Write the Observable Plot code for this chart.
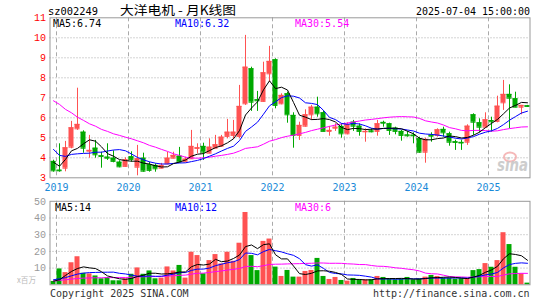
<!DOCTYPE html>
<html><head><meta charset="utf-8">
<script src="https://cdn.jsdelivr.net/npm/d3@7"></script>
<script src="https://cdn.jsdelivr.net/npm/@observablehq/plot@0.6"></script>
<style>
body{margin:0;background:#fff;}
#wrap{position:relative;width:545px;height:300px;overflow:hidden;background:#fff;}
#wrap svg{position:absolute;left:0;top:0;}
</style></head><body><div id="wrap"></div>
<script>
// ---- categories ----
const months = d3.utcMonths(new Date(Date.UTC(2018,11,1)), new Date(Date.UTC(2025,7,1))).map(d3.utcFormat("%Y-%m"));
const years = ["2019","2020","2021","2022","2023","2024","2025"];
const priceTicks = [3,4,5,6,7,8,9,10,11];
const priceGrid = [4,5,6,7,8,9,10];
const volTicks = [10,20,30,40,50];
const volGrid = [10,20,30,40];
const priceMaLabels = ["MA5:6.74","MA10:6.32","MA30:5.54"];
const volMaLabels = ["MA5:14","MA10:12","MA30:6"];

// ---- series (monthly K line) ----
const open = [3.82,3.38,3.48,4.53,5.45,5.28,4.33,4.48,4.10,4.03, 3.98,3.78,3.57,4.05,3.53,3.98,3.65,3.62,3.48,3.70, 3.98,4.08,3.80,3.95,4.47,4.57,4.23,4.48,4.58,5.07, 5.12,5.07,6.70,8.45,6.90,6.82,8.20,8.90,6.70,7.20, 6.12,5.12,5.58,6.15,6.53,6.25,5.32,5.48,5.57,5.20, 5.78,5.58,5.30,5.34,5.32,5.77,5.70,5.48,5.32,5.14, 5.13,4.95,4.28,5.13,5.12,5.42,5.20,4.80,4.77,4.78, 6.15,5.75,5.53,5.86,5.82,6.75,7.17,6.95,6.53,6.60];
const high = [3.88,4.70,4.82,5.82,7.48,5.35,5.12,4.87,4.28,4.70, 4.35,3.85,4.00,4.30,4.62,4.23,3.78,3.70,3.72,4.28, 4.28,4.52,4.03,5.37,4.70,4.73,4.95,5.12,5.12,5.92, 5.87,7.62,10.12,8.53,7.32,8.78,9.57,8.95,7.20,7.28, 6.25,5.78,6.40,6.62,7.03,6.35,5.57,5.70,5.70,5.75, 5.87,5.70,5.45,5.45,5.87,5.83,5.73,5.53,5.37,5.32, 5.25,5.03,4.98,5.25,5.45,5.53,5.28,4.88,4.88,5.65, 6.20,5.95,6.25,6.03,7.08,7.87,7.65,7.28,6.62,6.62];
const low = [3.28,3.28,3.30,4.45,5.37,4.23,3.98,3.98,3.48,3.87, 3.75,3.50,3.52,3.78,3.10,3.28,3.28,3.28,3.45,3.65, 3.95,3.75,3.78,3.92,4.20,3.87,4.20,4.45,4.53,4.95, 4.92,4.95,6.62,6.32,6.32,6.78,7.78,6.45,6.65,5.73, 4.48,4.87,5.53,5.87,6.03,5.30,5.08,5.32,4.98,5.15, 5.32,5.08,4.78,5.25,5.08,5.53,5.12,5.15,4.83,5.03, 4.70,4.23,3.73,4.78,5.03,5.03,4.58,4.37,4.37,4.62, 5.12,5.25,5.50,5.28,5.75,6.37,5.45,6.50,6.15,6.52];
const close = [3.35,3.35,4.50,5.50,5.67,4.48,4.37,4.15,4.07,3.98, 3.82,3.55,3.90,3.92,3.95,3.33,3.37,3.45,3.62,3.98, 4.12,3.78,3.93,4.57,4.50,4.28,4.53,4.65,5.03,5.28, 5.28,6.57,8.53,6.78,6.85,8.25,8.82,6.62,7.12,6.15, 5.12,5.62,6.15,6.53,6.20,5.32,5.37,5.53,5.20,5.65, 5.58,5.32,5.32,5.30,5.70,5.73,5.37,5.32,5.12,5.10, 5.10,4.28,4.92,5.08,5.40,5.25,4.78,4.77,4.74,5.58, 5.78,5.53,5.90,5.80,6.58,7.17,6.98,6.53,6.62,6.57];
const ma5 = [3.78,3.58,3.92,4.35,4.47,4.70,4.90,4.83,4.55,4.21, 4.08,3.91,3.86,3.83,3.83,3.73,3.69,3.60,3.54,3.55, 3.71,3.79,3.89,4.08,4.18,4.21,4.36,4.51,4.60,4.75, 4.95,5.36,6.14,6.49,6.80,7.40,7.85,7.46,7.53,7.39, 6.77,6.13,6.03,5.91,5.92,5.96,5.91,5.79,5.52,5.41, 5.47,5.46,5.41,5.43,5.44,5.47,5.48,5.48,5.45,5.33, 5.20,4.98,4.90,4.90,4.96,4.99,5.09,5.06,4.99,5.02, 5.13,5.28,5.51,5.72,5.92,6.20,6.49,6.62,6.77,6.75];
const ma10 = [4.42,4.12,4.07,4.17,4.20,4.22,4.23,4.28,4.28,4.34, 4.39,4.41,4.35,4.19,4.02,3.90,3.80,3.73,3.69,3.69, 3.72,3.74,3.75,3.81,3.87,3.96,4.08,4.20,4.34,4.47, 4.58,4.86,5.32,5.54,5.78,6.18,6.60,6.80,7.01,7.10, 7.08,6.99,6.75,6.72,6.66,6.37,6.02,5.91,5.72,5.67, 5.72,5.69,5.60,5.48,5.43,5.47,5.47,5.45,5.44,5.39, 5.34,5.23,5.19,5.17,5.14,5.09,5.04,4.98,4.94,4.99, 5.06,5.18,5.28,5.35,5.47,5.66,5.88,6.06,6.24,6.33];
const ma30 = [6.85,6.67,6.42,6.25,6.03,5.87,5.70,5.58,5.42,5.32, 5.20,5.12,5.03,4.95,4.85,4.75,4.62,4.53,4.42,4.32, 4.20,4.12,4.03,3.99,3.98,4.00,4.03,4.08,4.12,4.17, 4.23,4.34,4.47,4.51,4.55,4.68,4.83,4.91,5.01,5.08, 5.13,5.20,5.27,5.36,5.43,5.50,5.57,5.64,5.69,5.74, 5.79,5.84,5.89,5.92,5.96,6.00,6.03,6.05,6.06,6.05, 6.04,5.97,5.85,5.79,5.74,5.64,5.51,5.45,5.37,5.35, 5.37,5.37,5.36,5.33,5.35,5.41,5.46,5.50,5.54,5.55];

// ---- volume (x 百万) ----
const vol = [2.0,9.5,7.3,13.2,16.8,6.9,6.5,5.3,3.6,4.3, 2.4,2.4,3.6,6.3,10.1,6.3,8.3,3.6,4.0,10.7, 8.3,11.6,4.0,19.5,17.5,6.6,14.5,18.1,12.5,19.5, 14.1,24.9,43.3,17.5,8.5,26.0,27.4,10.6,5.0,8.6, 4.6,4.6,8.0,8.6,15.8,5.0,3.2,4.4,2.6,2.2, 3.8,3.0,3.0,3.0,5.0,4.4,3.4,3.0,3.4,4.4, 3.0,3.4,4.6,5.6,5.0,4.0,4.0,3.4,3.6,3.6, 8.5,9.1,12.7,10.5,14.5,31.2,24.1,10.5,6.6,1.0];
const vma5 = [2.2,3.0,5.6,8.0,9.76,10.74,10.14,9.74,7.82,5.32, 4.42,3.60,3.26,3.80,4.96,5.74,6.92,6.92,6.46,6.58, 6.98,7.64,7.72,10.82,12.18,11.84,12.42,15.24,13.84,14.24, 15.74,17.82,22.86,23.86,21.66,24.04,24.54,18.0,15.5,15.52, 11.24,6.68,6.16,6.88,8.32,8.4,8.12,7.4,6.2,3.48, 3.24,3.2,2.92,3.0,3.56,3.68,3.76,3.76,3.84,3.72, 3.44,3.44,3.76,4.2,4.32,4.52,4.64,4.4,4.0,3.72, 4.62,5.64,7.5,8.88,11.06,15.6,18.6,18.16,17.38,14.68];
const vma10 = [3.0,3.6,4.3,5.4,6.4,7.0,7.3,7.4,7.5,7.54, 7.58,6.87,6.5,5.81,5.14,5.08,5.26,5.09,5.13,5.77, 6.36,7.28,7.32,8.64,9.38,9.41,10.03,11.48,12.33,13.21, 13.79,15.12,19.05,18.85,17.95,19.89,21.18,20.43,19.68,18.59, 17.64,15.61,12.08,11.19,11.92,9.82,7.4,6.78,6.54,5.9, 5.82,5.66,5.16,4.6,3.52,3.46,3.48,3.34,3.42,3.64, 3.56,3.6,3.76,4.02,4.02,3.98,4.04,4.08,4.1,4.02, 4.57,5.14,5.95,6.44,7.39,10.11,12.12,12.83,13.13,12.87];
const vma30 = [2.2,2.7,3.0,3.4,3.8,4.0,4.1,4.2,4.2,4.3, 4.3,4.4,4.4,4.5,4.7,4.8,4.9,4.9,5.0,5.2, 5.4,5.7,5.8,6.4,6.9,7.0,7.4,7.9,8.3,8.84, 9.24,9.76,10.96,11.10,10.82,11.46,12.16,12.33,12.38,12.52, 12.60,12.67,12.82,12.89,13.08,13.04,12.87,12.90,12.85,12.57, 12.42,12.13,12.10,11.55,11.13,11.06,10.69,10.18,9.88,9.38, 9.01,8.29,7.0,6.60,6.49,5.75,4.97,4.73,4.69,4.52, 4.65,4.80,4.96,5.02,4.98,5.85,6.55,6.75,6.88,6.84];

// ---- build table ----
const rows = months.map((m, i) => ({
  m, o: open[i], h: high[i], l: low[i], c: close[i], v: vol[i],
  ma5: ma5[i], ma10: ma10[i], ma30: ma30[i],
  vma5: vma5[i], vma10: vma10[i], vma30: vma30[i],
  up: close[i] >= open[i]
}));
const yearStarts = years.map(y => y + "-01");

const RED = "#ff5252", GREEN = "#00a800";
const col = d => d.up ? RED : GREEN;
const MONO = "DejaVu Sans Mono";
const GRID = "#aaaaaa";
const svgStyle = {background: "transparent", position: "absolute", left: "0px", top: "0px", overflow: "visible"};

const xCfg = {type: "band", domain: months, padding: 0, axis: null};
const ML = 49.5, MR = 15.5;

const main = Plot.plot({
  width: 545, height: 300,
  marginLeft: ML, marginRight: MR, marginTop: 17.3, marginBottom: 122.7,
  style: svgStyle,
  x: xCfg,
  y: {domain: [3, 11], axis: null},
  marks: [
    Plot.ruleY(priceGrid, {y: d => d, stroke: GRID, strokeDasharray: "1,2"}),
    Plot.ruleX(yearStarts, {x: d => d, dx: -3, stroke: GRID, strokeDasharray: "4,3"}),
    Plot.ruleX(rows, {x: "m", y1: "l", y2: "h", stroke: col, strokeWidth: 1}),
    Plot.barY(rows, {x: "m", y1: "o", y2: "c", fill: col, insetLeft: 0.5, insetRight: 0.5}),
    Plot.tickY(rows, {x: "m", y: "c", stroke: col, insetLeft: 0.5, insetRight: 0.5}),
    Plot.tickY(rows, {x: "m", y: "o", stroke: col, insetLeft: 0.5, insetRight: 0.5}),
    Plot.line(rows, {x: "m", y: "ma30", stroke: "#ff00ff", strokeWidth: 1}),
    Plot.line(rows, {x: "m", y: "ma10", stroke: "#0000ff", strokeWidth: 1}),
    Plot.line(rows, {x: "m", y: "ma5", stroke: "#000000", strokeWidth: 1}),
    Plot.frame({stroke: "#999"}),
    Plot.text(priceTicks, {y: d => d, text: d => String(d), frameAnchor: "left", textAnchor: "end", dx: -4, fill: "#ff0000", fontSize: 10, fontFamily: "Liberation Mono"}),
    Plot.text(yearStarts, {x: d => d, text: (d, i) => years[i], frameAnchor: "bottom", lineAnchor: "top", dy: 6.5, dx: -3, fill: "#1a8ad8", fontSize: 10, fontFamily: MONO})
  ]
});

const volume = Plot.plot({
  width: 545, height: 300,
  marginLeft: ML, marginRight: MR, marginTop: 200.8, marginBottom: 15.7,
  style: svgStyle,
  x: xCfg,
  y: {domain: [0, 50], axis: null},
  marks: [
    Plot.ruleY(volGrid, {y: d => d, stroke: GRID, strokeDasharray: "1,2"}),
    Plot.ruleX(yearStarts, {x: d => d, dx: -3, stroke: GRID, strokeDasharray: "4,3"}),
    Plot.barY(rows, {x: "m", y: "v", fill: col, insetLeft: 0.5, insetRight: 0.5}),
    Plot.line(rows, {x: "m", y: "vma30", stroke: "#ff00ff", strokeWidth: 1}),
    Plot.line(rows, {x: "m", y: "vma10", stroke: "#0000ff", strokeWidth: 1}),
    Plot.line(rows, {x: "m", y: "vma5", stroke: "#000000", strokeWidth: 1}),
    Plot.frame({stroke: "#999"}),
    Plot.text(volTicks, {y: d => d, text: d => String(d), frameAnchor: "left", textAnchor: "end", dx: -4, fill: "#999", fontSize: 10, fontFamily: "Liberation Mono"})
  ]
});

const wrap = document.getElementById("wrap");
wrap.appendChild(main);
wrap.appendChild(volume);

// ---- titles, labels, captions ----
const svg = d3.select(wrap).append("svg").attr("width", 545).attr("height", 300)
  .style("position", "absolute").style("left", "0px").style("top", "0px");
function t(x, y, s, o = {}) {
  const e = svg.append("text").attr("x", x).attr("y", y).text(s)
    .attr("font-family", o.font || MONO).attr("font-size", o.size || 10)
    .attr("fill", o.fill || "#000").attr("text-anchor", o.anchor || "start");
  if (o.len) e.attr("textLength", o.len).attr("lengthAdjust", "spacingAndGlyphs");
  if (o.style) e.attr("font-style", o.style);
  if (o.weight) e.attr("font-weight", o.weight);
  if (o.opacity) e.attr("opacity", o.opacity);
  return e;
}
t(48, 14.5, "sz002249", {len: 50});
t(120, 14.5, "大洋电机 - 月K线图", {font: "Noto Sans CJK SC", size: 12.5, len: 116});
t(530, 14.5, "2025-07-04 15:00:00", {anchor: "end", len: 114});
t(53, 27, priceMaLabels[0], {fill: "#000"});
t(175, 27, priceMaLabels[1], {fill: "#0000ff"});
t(295, 27, priceMaLabels[2], {fill: "#ff00ff"});
t(55, 210.5, volMaLabels[0], {fill: "#000"});
t(175, 210.5, volMaLabels[1], {fill: "#0000ff"});
t(295, 210.5, volMaLabels[2], {fill: "#ff00ff"});
t(17, 283, "x百万", {fill: "#bbb", size: 8.5, font: "Noto Sans CJK SC", len: 19});
t(50, 296.5, "Copyright 2025 SINA.COM", {fill: "#333"});
t(529.5, 296.5, "http://finance.sina.com.cn", {fill: "#333", anchor: "end"});
// watermark
svg.append("ellipse").attr("cx", 510).attr("cy", 157).attr("rx", 6).attr("ry", 4.5)
  .attr("fill", "none").attr("stroke", "#f2a8a8").attr("stroke-width", 2).attr("opacity", 0.8);
t(497, 171, "sina", {fill: "#c8c8c8", size: 17, font: "DejaVu Sans", style: "italic", weight: "bold", len: 31, opacity: 0.9});
</script></body></html>
